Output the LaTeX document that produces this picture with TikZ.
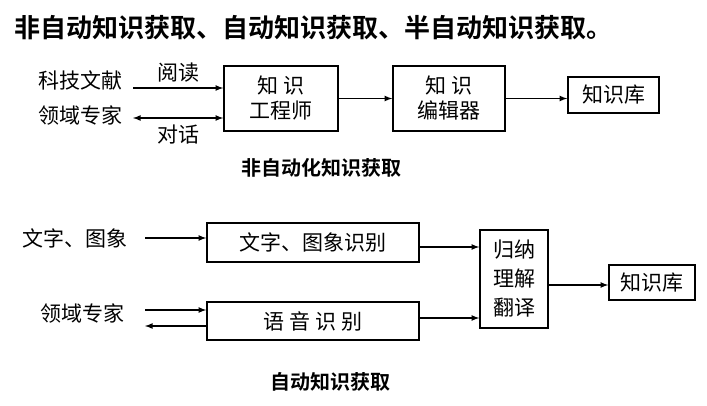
\documentclass[tikz,border=0pt]{standalone}
\usepackage{fontspec}
\setmainfont{Noto Sans CJK SC}[BoldFont={Noto Sans CJK SC Bold}]
\begin{document}
\begin{tikzpicture}[x=1pt,y=-1pt,
    box/.style={draw,line width=1.6pt,inner sep=0pt,align=center,font=\fontsize{21}{25}\selectfont},
    lbl/.style={inner sep=0pt,font=\fontsize{21}{23}\selectfont},
    caption/.style={inner sep=0pt,font=\fontsize{20}{22}\bfseries\selectfont},
    arr/.style={-latex,line width=1.6pt}]
    \useasboundingbox[fill=white] (0,0) rectangle (707,406);
    \node[anchor=west,inner sep=0pt,font=\fontsize{26}{28}\bfseries\selectfont] (title) at (14,28)
        {非自动知识获取、自动知识获取、半自动知识获取。};

    % manual acquisition
    \node[lbl,anchor=west] (docs) at (38,80) {科技文献};
    \node[lbl,anchor=west] (expA) at (38,115) {领域专家};
    \node[box,minimum width=114pt,minimum height=65pt] (eng) at (281,98.5) {知\ 识\\工程师};
    \node[box,minimum width=112pt,minimum height=65pt] (edit) at (449,98.5) {知\ 识\\编辑器};
    \node[box,minimum width=91pt,minimum height=36pt] (kbA) at (613.5,95) {知识库};
    \coordinate (a1) at (133,88);
    \coordinate (a2) at (133,118);
    \draw[arr] (a1) -- node[lbl,above=5pt]{阅读} (a1 -| eng.west);
    \draw[latex-latex,line width=1.6pt] (a2) -- node[lbl,below=6pt]{对话} (a2 -| eng.west);
    \draw[arr] (eng) -- (edit);
    \draw[arr] (edit.east) -- (kbA.west |- edit.east);
    \node[caption] (capA) at (321,168) {非自动化知识获取};

    % automatic acquisition
    \node[lbl,anchor=west] (img) at (22,238) {文字、图象};
    \node[lbl,anchor=west] (expB) at (40,313) {领域专家};
    \node[box,minimum width=212pt,minimum height=39pt] (ocr) at (313,242.5) {文字、图象识别};
    \node[box,minimum width=212pt,minimum height=38pt] (asr) at (313,321) {语\ 音\ 识\ 别};
    \node[box,minimum width=68pt,minimum height=98pt,font=\fontsize{21}{29}\selectfont] (nlu) at (514,279) {归纳\\理解\\翻译};
    \node[box,minimum width=86pt,minimum height=35pt] (kbB) at (652,282.5) {知识库};
    \coordinate (b1) at (145,238);
    \coordinate (b2) at (145,310);
    \coordinate (b3) at (145,326);
    \draw[arr] (b1) -- (b1 -| ocr.west);
    \draw[arr] (b2) -- (b2 -| asr.west);
    \draw[arr] (b3 -| asr.west) -- (b3);
    \draw[arr] (ocr.east |- 0,247) -- (nlu.west |- 0,247);
    \draw[arr] (asr.east |- 0,318) -- (nlu.west |- 0,318);
    \draw[arr] (nlu.east |- 0,285) -- (kbB.west |- 0,285);
    \node[caption] (capB) at (330,382) {自动知识获取};
\end{tikzpicture}
\end{document}
